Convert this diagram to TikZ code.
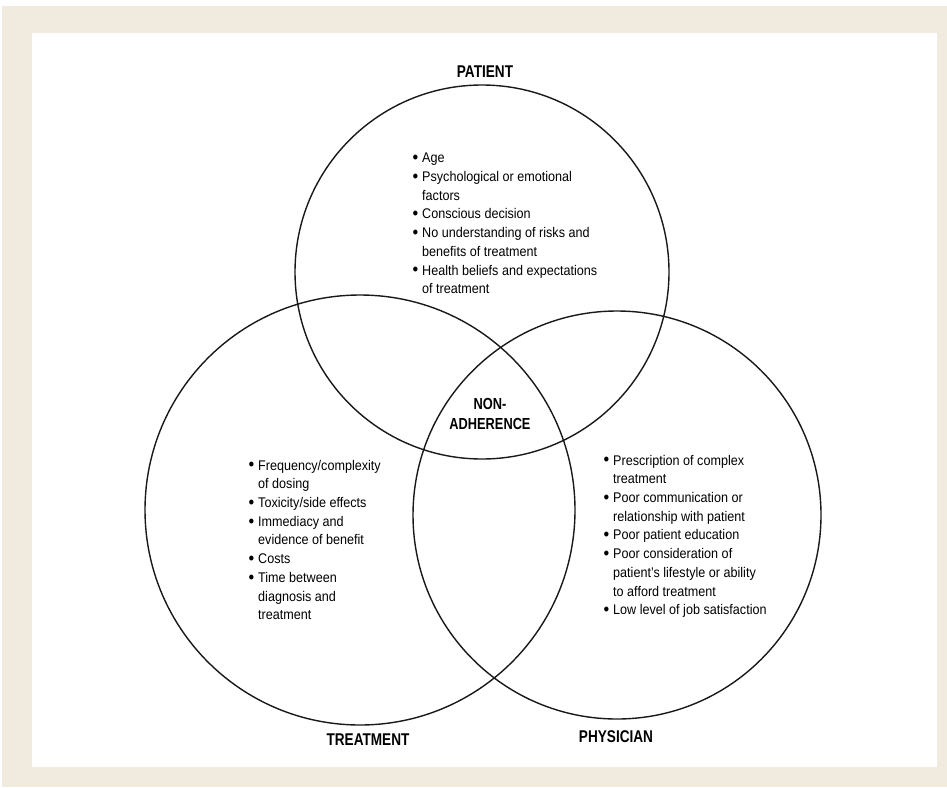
\documentclass[tikz,border=0pt]{standalone}
\usepackage{fontspec}
\setmainfont{Liberation Sans}[FakeStretch=0.9]
\newfontfamily\groupfont{Liberation Sans}[FakeStretch=0.8]
\usepackage{tikz}
\usetikzlibrary{positioning}
\definecolor{framebeige}{RGB}{240,234,223}
\newcommand{\itm}{\llap{\raisebox{-0.8pt}{\fontsize{18}{18}\selectfont\textbullet}\hspace{4pt}}}

\begin{document}
\begin{tikzpicture}[x=1pt, y=-1pt,
		ring/.style={draw=black!90, line width=1.4pt},
		factors/.style={anchor=north west, inner sep=0pt, align=left, font=\fontsize{14}{18.7}\selectfont},
		group/.style={anchor=base, inner sep=0pt, font=\groupfont\fontsize{17}{20}\selectfont\bfseries}]
		% frame
		\fill[white] (0,0) rectangle (947,787);
		\fill[framebeige] (2,6) rectangle (947,787);
		\fill[white] (32,33) rectangle (937,767);
		
		\coordinate (patc) at (482,272);
		\coordinate (trec) at (360,510);
		\coordinate (phyc) at (617,515);
		\draw[ring] (patc) circle[radius=187pt];
		\draw[ring] (trec) circle[radius=215pt];
		\draw[ring] (phyc) circle[radius=204pt];
		
		\node[group] (patient) at (485,77) {PATIENT};
		\node[group] (treatment) at (368,745) {TREATMENT};
		\node[group] (physician) at (616,742) {PHYSICIAN};
		
		\node[anchor=north, inner sep=0pt, align=center, font=\groupfont\fontsize{16}{20}\selectfont\bfseries] (nonadh) at (490,398.5) {NON-\\ADHERENCE};
		
		\node[factors] (patlist) at (422,153) {\itm Age\\
			\itm Psychological or emotional\\
			factors\\
			\itm Conscious decision\\
			\itm No understanding of risks and\\
			benefits of treatment\\
			\itm Health beliefs and expectations\\
			of treatment};
		
		\node[factors] (trelist) at (258,459.8) {\itm Frequency/complexity\\
			of dosing\\
			\itm Toxicity/side effects\\
			\itm Immediacy and\\
			evidence of benefit\\
			\itm Costs\\
			\itm Time between\\
			diagnosis and\\
			treatment};
		
		\node[factors] (phylist) at (613,454.8) {\itm Prescription of complex\\
			treatment\\
			\itm Poor communication or\\
			relationship with patient\\
			\itm Poor patient education\\
			\itm Poor consideration of\\
			patient's lifestyle or ability\\
			to afford treatment\\
			\itm Low level of job satisfaction};
\end{tikzpicture}
\end{document}
